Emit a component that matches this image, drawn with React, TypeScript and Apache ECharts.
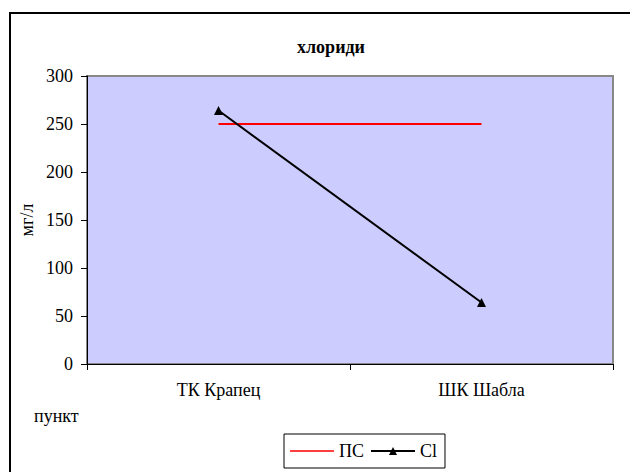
import React, { useEffect, useRef } from "react";
import * as echarts from "echarts";

const categories = ["ТК Крапец", "ШК Шабла"];
const psValues = [250, 250];
const clValues = [264, 64];
const yTicks = { min: 0, max: 300, interval: 50 };

const FONT = "'Liberation Serif', 'Times New Roman', serif";
const LINE_ICON = "path://M0,0h0.01v0.01h-0.01z M0,10h0.01v0.01h-0.01z M0,4.2h44v1.6h-44z";

export default function App() {
  const ref = useRef<HTMLDivElement>(null);
  useEffect(() => {
    if (!ref.current) return;
    const chart = echarts.init(ref.current, undefined, { renderer: "svg" });
    chart.setOption({
      animation: false,
      backgroundColor: "#ffffff",
      textStyle: { fontFamily: FONT },
      title: {
        text: "хлориди",
        left: 326,
        textAlign: "center",
        top: 33,
        textStyle: { fontFamily: FONT, fontSize: 18, fontWeight: "bold", color: "#000" },
      },
      grid: { left: 87, right: 17, top: 76, bottom: 108, show: true, backgroundColor: "#CCCCFF", borderColor: "#888888", borderWidth: 2 },
      xAxis: {
        type: "category",
        data: categories,
        boundaryGap: true,
        axisLine: { lineStyle: { color: "#000", width: 1 } },
        axisTick: { show: true, length: 6, lineStyle: { color: "#000" } },
        axisLabel: { color: "#000", fontSize: 18, fontFamily: FONT, margin: 17 },
        splitLine: { show: false },
      },
      yAxis: {
        type: "value",
        min: yTicks.min,
        max: yTicks.max,
        interval: yTicks.interval,
        axisLine: { show: true, lineStyle: { color: "#000", width: 1 } },
        axisTick: { show: true, length: 6, lineStyle: { color: "#000" } },
        axisLabel: { color: "#000", fontSize: 18, fontFamily: FONT, margin: 14 },
        splitLine: { show: false },
      },
      legend: {
        left: 284,
        top: 434,
        orient: "horizontal",
        borderColor: "#000",
        borderWidth: 1,
        padding: [8, 8, 8, 6],
        itemWidth: 44,
        itemHeight: 10,
        itemGap: 6,
        textStyle: { fontFamily: FONT, fontSize: 18, color: "#000", padding: [0, 0, 0, 0] },
        data: [
          { name: "ПС", icon: LINE_ICON, itemStyle: { color: "#ff0000" } },
          { name: "Cl" },
        ],
      },
      graphic: [
        {
          type: "rect",
          shape: { x: 10, y: 13, width: 700, height: 600 },
          style: { fill: "none", stroke: "#000", lineWidth: 2 },
          silent: true,
        },
        {
          type: "text",
          x: 27,
          y: 220,
          rotation: Math.PI / 2,
          style: { text: "мг/л", font: `18px ${FONT}`, fill: "#000", align: "center", verticalAlign: "middle" },
        },
        {
          type: "text",
          x: 34,
          y: 416,
          style: { text: "пункт", font: `18px ${FONT}`, fill: "#000", align: "left", verticalAlign: "middle" },
        },
      ],
      series: [
        {
          name: "ПС",
          type: "line",
          data: psValues,
          symbol: "none",
          lineStyle: { color: "#ff0000", width: 2 },
          itemStyle: { color: "#ff0000" },
        },
        {
          name: "Cl",
          type: "line",
          data: clValues,
          symbol: "triangle",
          symbolSize: 9,
          lineStyle: { color: "#000", width: 2 },
          itemStyle: { color: "#000" },
        },
      ],
    });
    return () => chart.dispose();
  }, []);
  return <div ref={ref} style={{ width: 630, height: 472, position: "absolute", left: 0, top: 0 }} />;
}
